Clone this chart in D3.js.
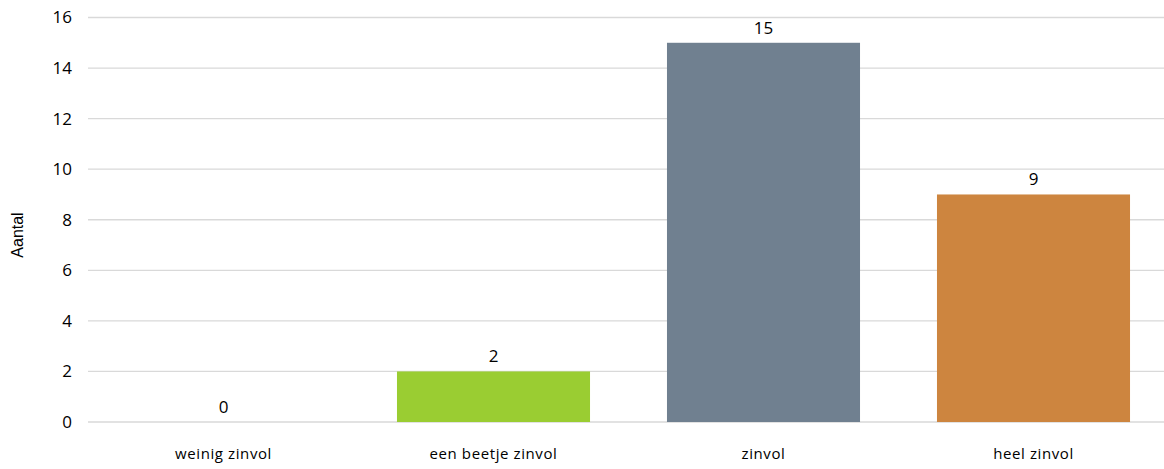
<!DOCTYPE html>
<html>
<head>
<meta charset="utf-8">
<script src="https://cdn.jsdelivr.net/npm/d3@7"></script>
<style>
  body { margin: 0; background: #fff; }
  svg { display: block; }
</style>
</head>
<body>
<svg id="canvas" width="1164" height="469"></svg>
<script>
const categories = ["weinig zinvol", "een beetje zinvol", "zinvol", "heel zinvol"];
const values = [0, 2, 15, 9];
const colors = ["#9ACD32", "#9ACD32", "#708090", "#CD853F"];
const yTicks = [0, 2, 4, 6, 8, 10, 12, 14, 16];

let canvas = d3.select("#canvas");

let x = d3.scaleBand()
    .domain(categories)
    .range([88.5, 1168.5])
    .paddingInner(0.285)
    .paddingOuter(0.1425);

let y = d3.scaleLinear()
    .domain([0, 16])
    .range([422, 17.5]);

// gridlines
canvas.append("g")
    .selectAll("line")
    .data(yTicks)
    .enter()
    .append("line")
    .attr("x1", 88)
    .attr("x2", 1164)
    .attr("y1", (d) => y(d))
    .attr("y2", (d) => y(d))
    .attr("stroke", "#d9d9d9")
    .attr("stroke-width", 1.3);

// y tick labels
canvas.append("g")
    .selectAll("text")
    .data(yTicks)
    .enter()
    .append("text")
    .attr("x", 72)
    .attr("y", (d) => y(d))
    .attr("dy", "0.35em")
    .attr("text-anchor", "end")
    .attr("font-family", "Open Sans, sans-serif")
    .attr("font-size", 17)
    .attr("fill", "#000")
    .text((d) => d);

// bars
canvas.append("g")
    .selectAll("rect")
    .data(values)
    .enter()
    .append("rect")
    .attr("x", (d, i) => x(categories[i]))
    .attr("width", x.bandwidth())
    .attr("y", (d) => y(d))
    .attr("height", (d) => y(0) - y(d))
    .attr("fill", (d, i) => colors[i]);

// value labels
canvas.append("g")
    .selectAll("text")
    .data(values)
    .enter()
    .append("text")
    .attr("x", (d, i) => x(categories[i]) + x.bandwidth() / 2)
    .attr("y", (d) => y(d) - 9)
    .attr("text-anchor", "middle")
    .attr("font-family", "Open Sans, sans-serif")
    .attr("font-size", 17)
    .attr("fill", "#000")
    .text((d) => d);

// category labels
canvas.append("g")
    .selectAll("text")
    .data(categories)
    .enter()
    .append("text")
    .attr("x", (d) => x(d) + x.bandwidth() / 2)
    .attr("y", 459)
    .attr("text-anchor", "middle")
    .attr("font-family", "Open Sans, sans-serif")
    .attr("font-size", 15)
    .attr("letter-spacing", "0.6px")
    .attr("fill", "#000")
    .text((d) => d);

// axis title
canvas.append("text")
    .attr("transform", "translate(23,235) rotate(-90)")
    .attr("text-anchor", "middle")
    .attr("font-family", "Liberation Sans, Arial, sans-serif")
    .attr("font-size", 16)
    .attr("fill", "#000")
    .text("Aantal");
</script>
</body>
</html>
